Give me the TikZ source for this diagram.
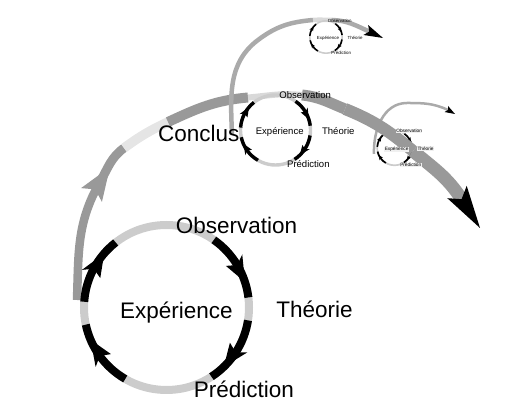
\documentclass[tikz,border=0pt]{standalone}
\usepackage{fontspec}
\setmainfont{Liberation Sans}
\usetikzlibrary{calc}

\tikzset{
  ring/.style={draw=gray!40},
  band/.style={draw=gray!80, line cap=butt},
  lightband/.style={draw=gray!20, line cap=butt},
  thinarc/.style={draw=gray!67, line cap=butt},
  lab/.style={inner sep=0pt, anchor=base},
}

% ring with four black arcs, running clockwise
\newcommand{\cycring}[3]{%
  \pgfmathsetmacro\cscale{#3/82.5}
  \begin{scope}[shift={(#1,#2)}]
    \draw[ring, line width=8*\cscale] (0,0) circle (#3);
    \foreach \st in {176,55,-9,-120}{
      \draw[line width=8*\cscale] (\st:#3) arc (\st:\st-48:#3);
      \fill (\st-20:#3+10*\cscale) -- (\st-37:#3) -- (\st-20:#3-10*\cscale) -- (\st-24:#3) -- cycle;
    }
  \end{scope}}

% the four words round a ring
\newcommand{\cyclabels}[5]{%
  \pgfmathsetmacro\cfs{22.5*#4/82.5}
  \begin{scope}[shift={(#2,#3)}, every node/.style={lab, font=\fontsize{\cfs}{\cfs}\selectfont, #5}]
    \node (#1-obs) at (0.848*#4, 0.891*#4) {Observation};
    \node (#1-exp) at (0.121*#4, -0.139*#4) {Expérience};
    \node (#1-the) at (1.794*#4, -0.127*#4) {Théorie};
    \node (#1-pre) at (0.939*#4, -1.085*#4) {Prédiction};
  \end{scope}}

\begin{document}
\begin{tikzpicture}[x=1pt, y=1pt]
\useasboundingbox (0,0) rectangle (512,420);

% small ring on the right, under the big band
\cycring{394.5}{272}{17.3}
\coordinate (r0) at (374,266);
\coordinate (r1) at (407,317);
\coordinate (tipR) at (455,306);
\coordinate (baseR) at (446.3,311);
\coordinate (r2) at ($(baseR)!0.2!(tipR)$);
\draw[thinarc, line width=2.5] (r0) to[out=92,in=180] (r1) to[out=0,in=155] (r2);
\fill (tipR) -- ($(baseR)!3.5pt!90:(tipR)$) -- (r2) -- ($(baseR)!3.5pt!-90:(tipR)$) -- cycle;

% big band
\coordinate (b0) at (77,120);
\coordinate (b1) at (100,238);
\coordinate (b2) at (124,272);
\coordinate (b3) at (168,298);
\coordinate (b4) at (248,322.5);
\coordinate (b5) at (302,325);
\coordinate (b6) at (345,311);
\coordinate (b7) at (413,269);
\coordinate (tipA) at (480,192);
\coordinate (baseA) at (457,228);
\coordinate (b8) at ($(baseA)!0.2!(tipA)$);
\draw[band, line width=8.5] (b0) to[out=88,in=240] (b1);
\draw[band, line width=9] (b1) to[out=60,in=216] (b2);
\draw[lightband, line width=9.5] (b2) to[out=36,in=205] (b3);
\draw[band, line width=10] (b3) to[out=25,in=185] (b4);
\draw[draw=gray!30, line width=6] (b4) to[out=5,in=174] (b5);
\draw[band, line width=11] (b5) to[out=-6,in=158] (b6);
\draw[band, line width=12] (b6) to[out=-22,in=140] (b7);
\draw[band, line width=13] (b7) to[out=-40,in=123] (b8);
\fill (tipA) -- ($(baseA)!11.5pt!90:(tipA)$) -- (b8) -- ($(baseA)!11.5pt!-90:(tipA)$) -- cycle;
\coordinate (tipG) at (110,253);
\coordinate (baseG) at (91.5,225);
\fill[gray!80] (tipG) -- ($(baseG)!12.5pt!90:(tipG)$) -- ($(baseG)!0.2!(tipG)$) -- ($(baseG)!12.5pt!-90:(tipG)$) -- cycle;

\cyclabels{rs}{394.5}{272}{17.3}{fill=gray!12, inner sep=0.4pt}

% big ring
\cycring{166.5}{112.5}{82.5}
\cyclabels{big}{166.5}{112.5}{82.5}{}

% medium ring and its arc
\coordinate (m0) at (232,285);
\coordinate (m1) at (258,380);
\coordinate (m2) at (313,400);
\coordinate (m3) at (332,400);
\coordinate (tipM) at (383,382);
\coordinate (baseM) at (365.8,390);
\coordinate (m4) at ($(baseM)!0.2!(tipM)$);
\draw[thinarc, line width=4.5] (m0) to[out=92,in=217] (m1) to[out=37,in=185] (m2);
\draw[draw=gray!30, line width=4.5] (m2) to[out=5,in=180] (m3);
\draw[thinarc, line width=4.5] (m3) to[out=-2,in=155] (m4);
\fill (tipM) -- ($(baseM)!5.5pt!90:(tipM)$) -- (m4) -- ($(baseM)!5.5pt!-90:(tipM)$) -- cycle;

\node[lab, font=\fontsize{22.5}{22.5}\selectfont, anchor=base west] (concl) at (158,278) {Conclus};

\cycring{275.5}{290}{35}
\cyclabels{mid}{275.5}{290}{35}{}

% small ring on top
\cycring{326}{383}{16.2}
\cyclabels{top}{326}{383}{16.2}{}
\end{tikzpicture}
\end{document}
